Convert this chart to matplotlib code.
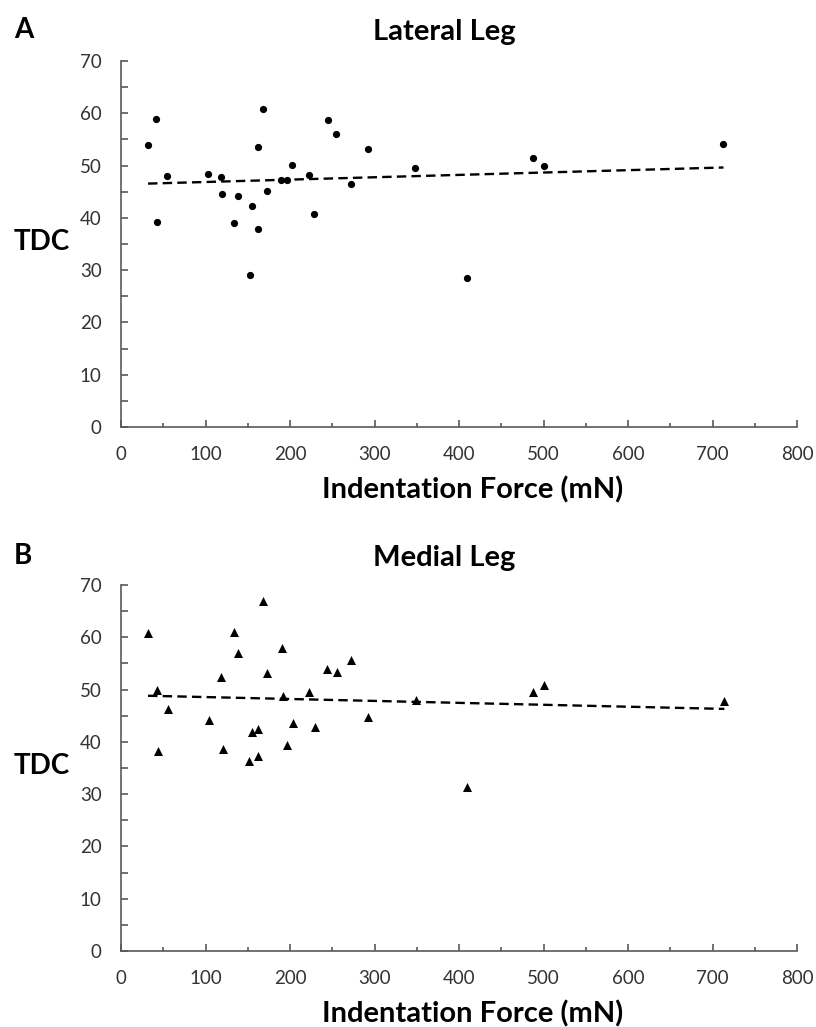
import numpy as np
import matplotlib
matplotlib.use('Agg')
import matplotlib.pyplot as plt
from matplotlib.ticker import MultipleLocator

plt.rcParams['font.family'] = ['Lato', 'DejaVu Sans']

# Lateral leg (panel A)
lateral_force = [32, 42, 43, 55, 103, 118, 120, 138, 134, 155, 153, 162, 162, 168, 173,
                 189, 197, 202, 222, 228, 245, 255, 272, 292, 348, 410, 487, 501, 713]
lateral_tdc = [54.0, 59.0, 39.3, 48.0, 48.3, 47.8, 44.6, 44.2, 39.0, 42.2, 29.1, 37.9, 53.5, 60.9, 45.1,
               47.3, 47.3, 50.1, 48.2, 40.8, 58.7, 56.0, 46.4, 53.2, 49.5, 28.5, 51.5, 49.9, 54.1]

# Medial leg (panel B)
medial_force = [32, 43, 44, 56, 104, 118, 121, 134, 139, 155, 162, 152, 162, 168, 173, 190, 192,
                197, 203, 223, 229, 244, 256, 272, 292, 349, 410, 487, 501, 714]
medial_tdc = [60.8, 49.9, 38.3, 46.2, 44.2, 52.4, 38.7, 61.0, 56.9, 41.8, 42.5, 36.4, 37.3, 67.0, 53.2,
              58.0, 48.8, 39.4, 43.6, 49.5, 42.9, 53.9, 53.4, 55.6, 44.8, 48.0, 31.3, 49.6, 50.8, 47.8]

panels = [
    ('A', 'Lateral Leg', lateral_force, lateral_tdc, 'o', 5.2),
    ('B', 'Medial Leg', medial_force, medial_tdc, '^', 6.5),
]

W, H = 816, 1027
fig = plt.figure(figsize=(W / 100, H / 100), dpi=100)

ax_left, ax_right = 121, 797
# (y of axis 70, y of axis 0, title y, letter y) in pixels
rows = [(61, 427, 32, 30), (585, 951, 558, 556)]

axis_color = '#595959'
text_color = '#333333'

for (letter, title, xs, ys, marker, msize), (ytop, ybot, ty, ly) in zip(panels, rows):
    ax = fig.add_axes([ax_left / W, 1 - ybot / H, (ax_right - ax_left) / W, (ybot - ytop) / H])
    ax.scatter(xs, ys, marker=marker, s=msize ** 2, color='black', zorder=3, linewidths=0)

    # linear trend line
    k, b = np.polyfit(xs, ys, 1)
    xx = np.array([min(xs), max(xs)])
    ax.plot(xx, k * xx + b, color='black', lw=1.7, dashes=(4, 2.2), zorder=2)

    ax.set_xlim(0, 800)
    ax.set_ylim(0, 70)
    ax.xaxis.set_major_locator(MultipleLocator(100))
    ax.xaxis.set_minor_locator(MultipleLocator(50))
    ax.yaxis.set_major_locator(MultipleLocator(10))
    ax.yaxis.set_minor_locator(MultipleLocator(5))
    for s in ['top', 'right']:
        ax.spines[s].set_visible(False)
    for s in ['left', 'bottom']:
        ax.spines[s].set_color(axis_color)
        ax.spines[s].set_linewidth(1.2)
        ax.spines[s].set_clip_on(False)

    ax.tick_params(axis='y', which='major', direction='in', length=5, width=1.2,
                   color=axis_color, labelsize=13.5, labelcolor=text_color, pad=14)
    ax.tick_params(axis='y', which='minor', direction='in', length=5, width=1.2, color=axis_color)
    ax.tick_params(axis='x', which='major', direction='in', length=5, width=1.2,
                   color=axis_color, labelsize=13.5, labelcolor=text_color, pad=14)
    ax.tick_params(axis='x', which='minor', direction='in', length=3, width=1.2, color=axis_color)

    ax.set_xlabel('Indentation Force (mN)', fontsize=21, fontweight='bold', color='black')
    ax.xaxis.set_label_coords(0.52, -0.135)
    ax.set_ylabel('TDC', fontsize=20, fontweight='bold', rotation=0, color='black', va='center')
    ax.yaxis.set_label_coords(-0.117, 0.505)

    fig.text(444 / W, 1 - ty / H, title, fontsize=21, fontweight='bold', ha='center', va='center')
    fig.text(14 / W, 1 - ly / H, letter, fontsize=20, fontweight='bold', ha='left', va='center')

fig.savefig('out.png', dpi=100)
